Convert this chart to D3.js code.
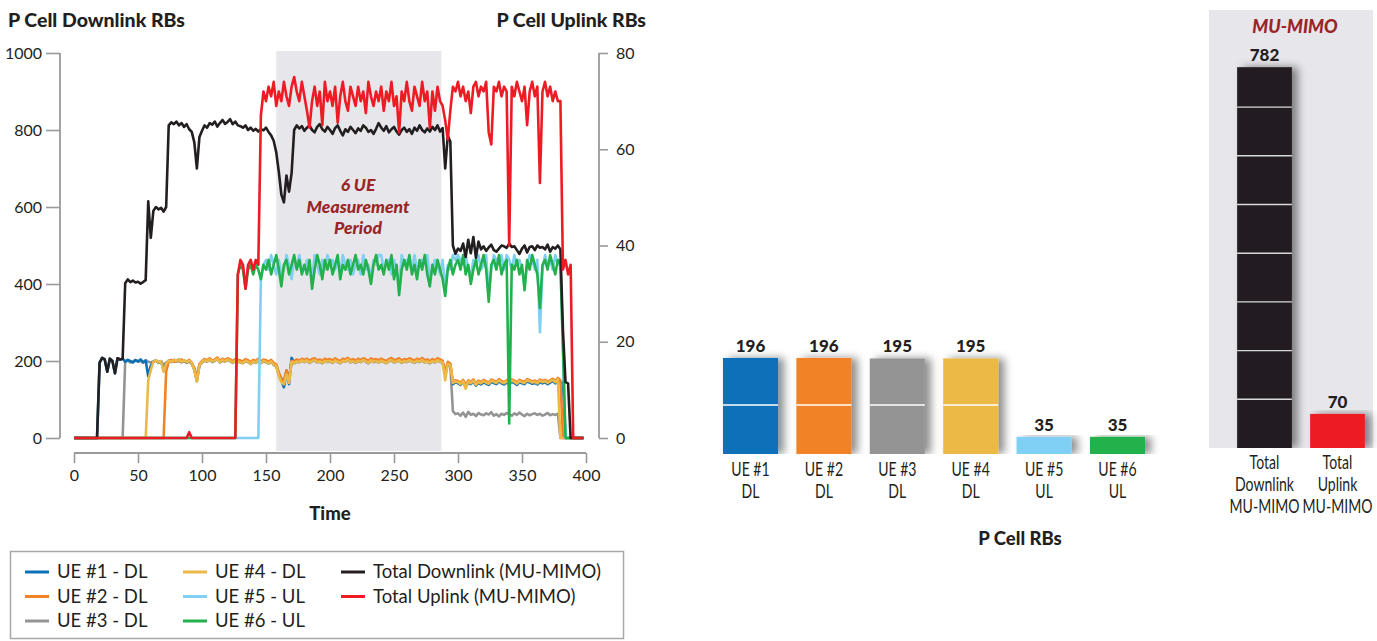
<!DOCTYPE html>
<html>
<head>
<meta charset="utf-8">
<script src="https://cdn.jsdelivr.net/npm/d3@7"></script>
<style>
  body { margin: 0; background: #fff; }
  svg { display: block; font-family: Lato, "Noto Sans", sans-serif; }
</style>
</head>
<body>
<svg id="chart" width="1377" height="641"></svg>
<script>
// ---- Time series (sampled every 2 time units, t = 0 … 398) ----
const TIME = d3.range(0, 400, 2);

// Downlink RBs per UE (left axis)
const UE1_DL = [
  0,0,0,0,0,0,0,0,0,0,
  196,208,204,172,206,200,168,207,204,206,
  198,203,200,196,202,199,204,197,201,160,
  188,198,202,196,200,176,193,201,198,203,
  200,204,198,202,197,201,194,178,148,190,
  198,203,200,205,199,202,207,198,203,200,
  205,201,197,203,200,198,196,202,199,194,
  200,197,203,196,201,199,195,200,192,188,
  165,150,132,170,140,208,196,200,198,203,
  199,203,197,201,204,198,200,196,202,199,
  201,197,203,199,196,202,200,205,198,201,
  197,202,199,204,200,196,203,199,201,198,
  202,199,196,201,204,198,200,203,197,201,
  199,203,200,197,202,199,204,198,200,196,
  201,198,203,200,197,165,194,190,140,145,
  142,138,146,132,144,140,147,136,143,139,
  145,141,138,146,143,140,147,142,139,144,
  141,146,143,138,145,142,140,147,144,141,
  143,139,146,142,145,140,144,148,142,150,
  146,142,0,0,0,0,0,0,0,0
];
const UE2_DL = [
  0,0,0,0,0,0,0,0,0,0,
  0,0,0,0,0,0,0,0,0,0,
  0,0,0,0,0,0,0,0,0,0,
  0,0,0,0,0,0,172,199,203,198,
  202,199,204,200,198,203,196,180,152,192,
  200,205,202,207,201,204,209,200,206,203,
  207,204,200,205,203,201,199,205,202,197,
  203,200,206,199,204,202,198,203,195,191,
  170,152,145,175,150,200,200,204,201,206,
  203,206,201,205,207,202,204,200,206,203,
  205,201,207,203,200,206,204,208,202,205,
  201,206,203,207,204,200,207,203,205,202,
  206,203,200,205,208,202,204,207,201,205,
  203,207,204,201,206,203,208,202,204,200,
  205,202,207,204,201,170,198,194,146,150,
  148,143,151,138,150,146,152,141,149,145,
  151,147,144,152,149,146,153,148,145,150,
  147,152,149,144,151,148,146,153,150,147,
  149,145,152,148,151,146,150,154,148,156,
  150,0,0,0,0,0,0,0,0,0
];
const UE3_DL = [
  0,0,0,0,0,0,0,0,0,0,
  0,0,0,0,0,0,0,0,0,0,
  200,201,196,199,203,198,200,195,202,198,
  196,199,201,195,199,190,196,200,197,201,
  198,202,196,200,195,199,192,182,160,188,
  196,201,198,203,197,200,205,196,201,198,
  203,199,195,201,198,196,194,200,197,192,
  198,195,201,194,199,197,193,198,190,186,
  168,155,150,176,158,195,194,198,196,201,
  197,201,195,199,202,196,198,194,200,197,
  199,195,201,197,194,200,198,203,196,199,
  195,200,197,202,198,194,201,197,199,196,
  200,197,194,199,202,196,198,201,195,199,
  197,201,198,195,200,197,202,196,198,194,
  199,196,201,198,195,172,192,188,70,62,
  64,58,66,55,68,60,63,57,65,61,
  59,64,61,67,58,62,56,63,60,65,
  62,58,64,60,66,61,57,63,59,62,
  64,60,63,58,61,65,59,62,60,63,
  0,0,0,0,0,0,0,0,0,0
];
const UE4_DL = [
  0,0,0,0,0,0,0,0,0,0,
  0,0,0,0,0,0,0,0,0,0,
  0,0,0,0,0,0,0,0,0,150,
  176,198,202,196,200,172,193,201,198,203,
  200,204,198,202,197,201,194,176,146,188,
  198,202,199,204,199,201,206,197,203,199,
  204,200,196,202,199,197,195,201,198,193,
  199,196,202,195,200,198,194,199,191,187,
  160,145,140,165,143,198,195,199,197,202,
  198,202,196,200,203,197,199,195,201,198,
  200,196,202,198,195,201,199,204,197,200,
  196,201,198,203,199,195,202,198,200,197,
  201,198,195,200,203,197,199,202,196,200,
  198,202,199,196,201,198,203,197,199,195,
  200,197,202,199,196,150,193,189,143,147,
  145,140,148,128,147,142,149,138,146,142,
  148,144,141,149,146,143,150,145,142,147,
  144,149,146,141,148,145,143,150,147,144,
  146,142,149,145,148,143,147,151,145,153,
  0,0,0,0,0,0,0,0,0,0
];

// Uplink RBs per UE (right axis)
const UE5_UL = [
  0,0,0,0,0,0,0,0,0,0,
  0,0,0,0,0,0,0,0,0,0,
  0,0,0,0,0,0,0,0,0,0,
  0,0,0,0,0,0,0,0,0,0,
  0,0,0,0,0,0,0,0,0,0,
  0,0,0,0,0,0,0,0,0,0,
  0,0,0,0,0,0,0,0,0,0,
  0,0,0,33,36,37,35,38,36,34,
  37,34,35,38,36,33,37,36,38,35,
  35,37,36,33,38,36,34,37,35,38,
  36,37,35,37,34,38,36,35,37,34,
  36,37,34,38,35,36,33,37,36,38,
  38,35,36,37,34,37,35,31,38,36,
  37,36,35,38,35,36,37,36,38,33,
  35,37,36,34,37,31,36,35,38,37,
  38,37,36,38,35,34,37,36,38,35,
  36,38,30,35,38,37,36,38,35,38,
  37,35,38,36,37,35,32,36,38,37,
  35,37,22,35,38,36,37,35,38,36,
  37,18,0,0,0,0,0,0,0,0
];
const UE6_UL = [
  0,0,0,0,0,0,0,0,0,0,
  0,0,0,0,0,0,0,0,0,0,
  0,0,0,0,0,0,0,0,0,0,
  0,0,0,0,0,0,0,0,0,0,
  0,0,0,0,0,0,0,0,0,0,
  0,0,0,0,0,0,0,0,0,0,
  0,0,0,0,34,36,35,31,35,36,
  34,36,35,33,36,35,37,34,36,38,
  35,31.5,36,37,34,36,38,35,37,34,
  36,34,37,31,35,38,36,33,37,35,
  37,34,36,38,33,36,35,37,34,36,
  38,35,36,34,37,35,32,36,38,35,
  36,34,37,35,38,33,36,29.7,35,37,
  35,38,34,36,33,37,35,38,34,31.5,
  36,34,37,35,33,29.5,35,37,34,36,
  37,35,38,34,36,32,35,37,34,36,
  38,35,28.3,36,37,35,38,34,36,37,
  3,36,35,37,34,36,30.7,37,35,38,
  36,34,27,36,37,35,38,36,34,37,
  36,19,0,0,0,0,0,0,0,0
];

// Cell totals
const TOTAL_DL = [
  0,0,0,0,0,0,0,0,0,0,
  196,208,204,172,206,200,168,207,204,206,
  402,412,405,409,404,406,401,405,410,615,
  520,590,600,594,598,588,600,812,820,815,
  822,812,818,808,815,802,795,768,700,782,
  798,812,806,818,814,822,809,818,826,816,
  821,828,815,822,812,810,806,812,800,806,
  798,803,796,802,799,806,795,786,772,742,
  692,632,612,682,640,688,800,812,804,810,
  798,806,812,800,794,808,815,802,796,808,
  800,790,805,812,798,786,802,795,808,800,
  792,804,798,812,806,795,800,790,803,818,
  806,798,810,794,802,808,796,788,800,806,
  795,802,790,806,798,812,800,794,804,796,
  808,800,812,796,805,700,785,770,500,478,
  492,486,505,470,515,480,522,468,510,490,
  498,486,495,502,488,484,492,500,498,494,
  505,496,498,488,478,492,500,482,496,498,
  488,500,494,496,490,502,484,496,492,500,
  490,280,145,142,0,0,0,0,0,0
];
const TOTAL_UL = [
  0,0,0,0,0,0,0,0,0,0,
  0,0,0,0,0,0,0,0,0,0,
  0,0,0,0,0,0,0,0,0,0,
  0,0,0,0,0,0,0,0,0,0,
  0,0,0,0,0,1.2,0,0,0,0,
  0,0,0,0,0,0,0,0,0,0,
  0,0,0,0,34,37,36,31,36,37,
  35,37,36,67,72,70,73,71,74,69,
  72,70,74,71,69,73,75,72,70,74,
  71,68,64.5,70,73,69,72,65,74,70,
  72,69,73,65.5,71,74,70,68,73,71,
  69,73,70,72,67.5,74,71,69,72,70,
  73,68,72,70,74,69,71,63.5,72,70,
  74,70,68,73,71,69,74,70,72,64.5,
  72,68,73,70,69,66,62,68,73,72,
  74,71,73,70,72,67.5,73,74,71,73,
  72,74,63.5,61,73,72,74,71,73,72,
  40,73,71,74,72,70,73,65,72,74,
  71,73,53,72,74,71,73,70,72,70,
  70,35,37,34,36,0,0,0,0,0
];

// ---- Bar summaries ----
const UE_CATEGORIES = [["UE #1", "DL"], ["UE #2", "DL"], ["UE #3", "DL"], ["UE #4", "DL"], ["UE #5", "UL"], ["UE #6", "UL"]];
const UE_RBS = [196, 196, 195, 195, 35, 35];
const UE_COLORS = ["#0a70b8", "#f28227", "#949494", "#ecb947", "#7fd0f4", "#22b14c"];

const MU_CATEGORIES = [["Total", "Downlink", "MU-MIMO"], ["Total", "Uplink", "MU-MIMO"]];
const MU_RBS = [782, 70];
const MU_COLORS = ["#231f20", "#ed1c24"];

// ---- Axis ticks ----
const DL_TICKS = [0, 200, 400, 600, 800, 1000];
const UL_TICKS = [0, 20, 40, 60, 80];
const TIME_TICKS = [0, 50, 100, 150, 200, 250, 300, 350, 400];
const MEASUREMENT_WINDOW = [158, 287];

const LINES = [
  { name: "UE #3 - DL", values: UE3_DL, color: UE_COLORS[2], axis: "dl" },
  { name: "UE #1 - DL", values: UE1_DL, color: UE_COLORS[0], axis: "dl" },
  { name: "UE #2 - DL", values: UE2_DL, color: UE_COLORS[1], axis: "dl" },
  { name: "UE #4 - DL", values: UE4_DL, color: UE_COLORS[3], axis: "dl" },
  { name: "UE #5 - UL", values: UE5_UL, color: UE_COLORS[4], axis: "ul" },
  { name: "UE #6 - UL", values: UE6_UL, color: UE_COLORS[5], axis: "ul" },
  { name: "Total Downlink (MU-MIMO)", values: TOTAL_DL, color: "#231f20", axis: "dl" },
  { name: "Total Uplink (MU-MIMO)", values: TOTAL_UL, color: "#ed1c24", axis: "ul" }
];

const LEGEND_ORDER = [
  ["UE #1 - DL", "UE #2 - DL", "UE #3 - DL"],
  ["UE #4 - DL", "UE #5 - UL", "UE #6 - UL"],
  ["Total Downlink (MU-MIMO)", "Total Uplink (MU-MIMO)"]
];

const svg = d3.select("#chart");
const AXIS_GREY = "#9a9a9a";
const DARK = "#231f20";
const ACCENT = "#9a2526";
const PANEL = "#e6e6eb";
const CONDENSE = 0.76;   // horizontal squeeze for the narrow category labels

// ---- Line chart ----
const x = d3.scaleLinear().domain([0, 400]).range([74, 586]);
const yDL = d3.scaleLinear().domain([0, 1000]).range([438, 53]);
const yUL = d3.scaleLinear().domain([0, 80]).range([438, 53]);

// measurement period band
svg.append("rect")
  .attr("x", x(MEASUREMENT_WINDOW[0]))
  .attr("y", 51)
  .attr("width", x(MEASUREMENT_WINDOW[1]) - x(MEASUREMENT_WINDOW[0]))
  .attr("height", 451 - 51)
  .attr("fill", PANEL);

const note = svg.append("text")
  .attr("text-anchor", "middle")
  .attr("fill", ACCENT)
  .attr("font-weight", 900)
  .attr("font-style", "italic")
  .attr("font-size", 17.5);
["6 UE", "Measurement", "Period"].forEach((s, i) =>
  note.append("tspan").attr("x", 358).attr("y", 191 + i * 21.5).text(s));

// axes
function styleAxis(g) {
  g.select(".domain").remove();
  g.selectAll(".tick line").attr("stroke", AXIS_GREY).attr("stroke-width", 1.6);
  g.selectAll(".tick text").attr("fill", DARK).attr("font-size", 16)
    .attr("font-family", "Lato, sans-serif");
}
const fmt = d3.format("d");

const gLeft = svg.append("g").attr("transform", "translate(60,0)")
  .call(d3.axisLeft(yDL).tickValues(DL_TICKS).tickFormat(fmt).tickSize(14).tickPadding(4).tickSizeOuter(0))
  .call(styleAxis);
gLeft.append("line").attr("y1", yDL(1000)).attr("y2", yDL(0))
  .attr("stroke", AXIS_GREY).attr("stroke-width", 1.8);

const gRight = svg.append("g").attr("transform", "translate(599,0)")
  .call(d3.axisRight(yUL).tickValues(UL_TICKS).tickFormat(fmt).tickSize(9).tickPadding(8).tickSizeOuter(0))
  .call(styleAxis);
gRight.append("line").attr("y1", yUL(80)).attr("y2", yUL(0))
  .attr("stroke", AXIS_GREY).attr("stroke-width", 1.8);

const gBottom = svg.append("g").attr("transform", "translate(0,453)")
  .call(d3.axisBottom(x).tickValues(TIME_TICKS).tickFormat(fmt).tickSize(10).tickPadding(7).tickSizeOuter(0))
  .call(styleAxis);
gBottom.append("line").attr("x1", x(0)).attr("x2", x(400))
  .attr("stroke", AXIS_GREY).attr("stroke-width", 1.8);

// series
LINES.forEach(s => {
  const yS = s.axis === "dl" ? yDL : yUL;
  const line = d3.line().x((d, i) => x(TIME[i])).y(d => yS(d));
  svg.append("path")
    .datum(s.values)
    .attr("d", line)
    .attr("fill", "none")
    .attr("stroke", s.color)
    .attr("stroke-width", 2.6)
    .attr("stroke-linejoin", "round");
});

// axis titles
svg.append("text").attr("x", 8).attr("y", 27).attr("font-size", 19.5).attr("font-weight", 900)
  .attr("fill", DARK).text("P Cell Downlink RBs");
svg.append("text").attr("x", 646).attr("y", 27).attr("text-anchor", "end").attr("font-size", 19.5)
  .attr("font-weight", 900).attr("fill", DARK).text("P Cell Uplink RBs");
svg.append("text").attr("x", x(200)).attr("y", 520).attr("text-anchor", "middle")
  .attr("font-size", 18.5).attr("font-weight", 900).attr("fill", DARK).text("Time");

// legend
svg.append("rect").attr("x", 10.5).attr("y", 551.5).attr("width", 613).attr("height", 87)
  .attr("fill", "none").attr("stroke", "#a8a8a8").attr("stroke-width", 1.5);
const legendCols = [25, 183, 341];
LEGEND_ORDER.forEach((col, ci) => {
  col.forEach((name, ri) => {
    const s = LINES.find(l => l.name === name);
    const yy = 572 + ri * 24.5;
    svg.append("line").attr("x1", legendCols[ci]).attr("x2", legendCols[ci] + 24)
      .attr("y1", yy).attr("y2", yy).attr("stroke", s.color).attr("stroke-width", 3);
    svg.append("text").attr("x", legendCols[ci] + 32).attr("y", yy + 6)
      .attr("font-size", 18.5).attr("fill", DARK).text(name);
  });
});

// ---- Bar charts ----
const defs = svg.append("defs");
const shadow = defs.append("filter").attr("id", "barShadow")
  .attr("x", "-20%").attr("y", "-10%").attr("width", "160%").attr("height", "120%");
shadow.append("feDropShadow").attr("dx", 6).attr("dy", 0).attr("stdDeviation", 4.5)
  .attr("flood-color", "#000").attr("flood-opacity", 0.45);

function barPanel(opts) {
  const { cats, values, colors, xRange, base, yTop, maxVal, clipId, labelY, gridColor } = opts;
  const xb = d3.scaleBand().domain(d3.range(values.length)).range(xRange)
    .paddingInner(0.25).paddingOuter(0.125);
  const yb = d3.scaleLinear().domain([0, maxVal]).range([base, yTop]);

  defs.append("clipPath").attr("id", clipId)
    .append("rect").attr("x", xRange[0] - 20).attr("y", 0)
    .attr("width", xRange[1] - xRange[0] + 40).attr("height", base);

  const g = svg.append("g").attr("clip-path", `url(#${clipId})`);
  g.selectAll("rect").data(values).join("rect")
    .attr("x", (d, i) => xb(i)).attr("width", xb.bandwidth())
    .attr("y", d => yb(d)).attr("height", d => base - yb(d))
    .attr("fill", (d, i) => colors[i])
    .attr("filter", "url(#barShadow)");

  // hundred-RB rules inside each bar
  values.forEach((v, i) => {
    d3.range(100, v, 100).forEach(t => {
      svg.append("line").attr("x1", xb(i)).attr("x2", xb(i) + xb.bandwidth())
        .attr("y1", yb(t)).attr("y2", yb(t))
        .attr("stroke", gridColor).attr("stroke-width", 1.4);
    });
  });

  svg.selectAll(null).data(values).join("text")
    .attr("x", (d, i) => xb(i) + xb.bandwidth() / 2)
    .attr("y", d => yb(d) - 6)
    .attr("text-anchor", "middle").attr("font-size", 17).attr("font-weight", 900)
    .attr("fill", DARK).text(d => d);

  cats.forEach((lines, i) => {
    const cx = xb(i) + xb.bandwidth() / 2;
    const t = svg.append("text").attr("text-anchor", "middle").attr("font-size", 18.5)
      .attr("fill", DARK).attr("transform", `translate(${cx},0) scale(${CONDENSE},1)`);
    lines.forEach((s, li) => t.append("tspan").attr("x", 0)
      .attr("y", labelY + li * 22).text(s));
  });
}

// MU-MIMO panel background
svg.append("rect").attr("x", 1209).attr("y", 10).attr("width", 164).attr("height", 438)
  .attr("fill", PANEL);
svg.append("text").attr("x", 1295).attr("y", 33).attr("text-anchor", "middle")
  .attr("font-size", 18).attr("font-weight", 900).attr("font-style", "italic")
  .attr("fill", ACCENT).text("MU-MIMO");

barPanel({
  cats: UE_CATEGORIES, values: UE_RBS, colors: UE_COLORS,
  xRange: [713.8, 1154.2], base: 454, yTop: 356, maxVal: 200,
  clipId: "clipUE", labelY: 476, gridColor: "#ffffff"
});
barPanel({
  cats: MU_CATEGORIES, values: MU_RBS, colors: MU_COLORS,
  xRange: [1228, 1374], base: 448, yTop: 448 - 0.487 * 800, maxVal: 800,
  clipId: "clipMU", labelY: 469, gridColor: "#d8d8d8"
});

svg.append("text").attr("x", 1020).attr("y", 545).attr("text-anchor", "middle")
  .attr("font-size", 18.5).attr("font-weight", 900).attr("fill", DARK).text("P Cell RBs");
</script>
</body>
</html>
